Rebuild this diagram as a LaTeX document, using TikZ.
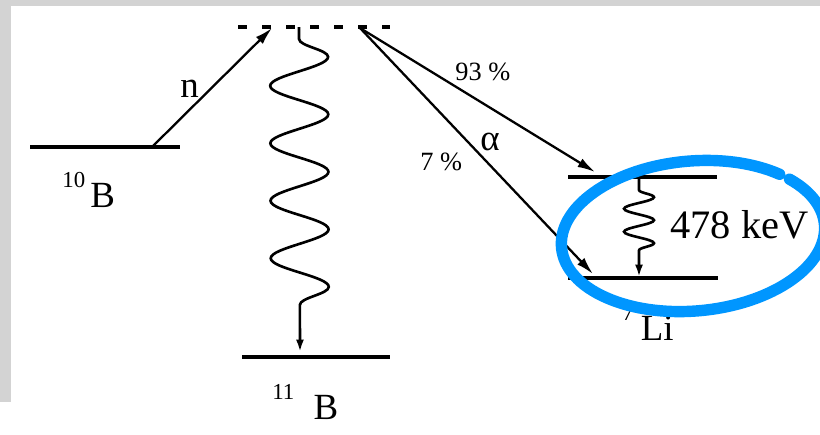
\documentclass[tikz,border=0pt]{standalone}
\usepackage{fontspec}
\setmainfont{Liberation Serif}
\usetikzlibrary{arrows.meta,decorations.pathmorphing}
\definecolor{framegray}{RGB}{211,211,211}
\definecolor{markblue}{RGB}{0,150,255}
\newcommand\iso[3][3pt]{\raisebox{11pt}{\fontsize{13}{13}\selectfont #2}\hspace{#1}#3}

\begin{document}
\begin{tikzpicture}[x=0.02cm,y=0.02cm,
  every node/.style={inner sep=0pt,anchor=base west},
  level/.style={line width=1.8pt},
  virtual/.style={line width=1.8pt,dash pattern=on 5pt off 8.7pt},
  ray/.style={line width=1.3pt,-{Latex[length=10pt,width=5.5pt]}},
  gammaline/.style={line width=1.5pt,-{Latex[length=7pt,width=4.5pt]},decorate},
  lbl/.style={font=\fontsize{21}{25}\selectfont},
  pct/.style={font=\fontsize{15}{18}\selectfont},
  markring/.style={markblue,line width=6.5pt,line cap=round}]
\useasboundingbox (0,0) rectangle (820,-434);
\clip (0,0) rectangle (820,-434);
\fill[framegray] (0,0) rectangle (820,-6);
\fill[framegray] (0,0) rectangle (11,-402);

\coordinate (virtL) at (238,-27);
\coordinate (virtR) at (390,-27);
\coordinate (b10L) at (30,-147);
\coordinate (b10R) at (180,-147);
\coordinate (b11L) at (242,-357);
\coordinate (b11R) at (390,-357);
\coordinate (liexL) at (568,-177);
\coordinate (liexR) at (717,-177);
\coordinate (ligsL) at (568,-278);
\coordinate (ligsR) at (718,-278);

\draw[virtual] (virtL) -- (virtR);
\draw[level] (b10L) -- (b10R);
\draw[level] (b11L) -- (b11R);
\draw[level] (liexL) -- (liexR);
\draw[level] (ligsL) -- (ligsR);

\coordinate (nIn) at (152,-147);
\coordinate (nTop) at (272,-28);
\coordinate (aOut) at (360,-28);
\coordinate (aHigh) at (595,-172);
\coordinate (aLow) at (593,-274);
\draw[ray] (nIn) -- (nTop);
\draw[ray] (aOut) -- (aHigh);
\draw[ray] (aOut) -- (aLow);

\coordinate (gTop) at (299,-27);
\coordinate (gEnd) at (300,-352);
\draw[gammaline,decoration={snake,amplitude=0.58cm,segment length=1.15cm,pre length=0.24cm,post length=0.44cm}] (gTop) -- (gEnd);
\coordinate (liTop) at (639,-178);
\coordinate (liEnd) at (639,-277);
\draw[gammaline,decoration={snake,amplitude=0.3cm,segment length=0.46cm,pre length=0.24cm,post length=0.32cm}] (liTop) -- (liEnd);

\node[lbl] (nlab) at (180,-97) {n};
\node[lbl] (alab) at (480,-150) {α};
\node[pct] (p93) at (455,-80) {93 \%};
\node[pct] (p7) at (420,-170) {7 \%};
\node[lbl] (b10lab) at (62,-207) {\iso{10}{B}};
\node[lbl] (b11lab) at (272,-419) {\iso[11pt]{11}{B}};
\node[lbl] (lilab) at (622,-340) {\iso[4pt]{7}{Li}};
\node[font=\fontsize{23}{27}\selectfont] (kev) at (670,-238) {478 keV};

\coordinate (ringc) at (693,-236);
\draw[markring,rotate around={5:(ringc)}] (ringc) ++(46:2.64cm and 1.5cm) arc[start angle=46,end angle=400,x radius=2.64cm,y radius=1.5cm];
\end{tikzpicture}
\end{document}
